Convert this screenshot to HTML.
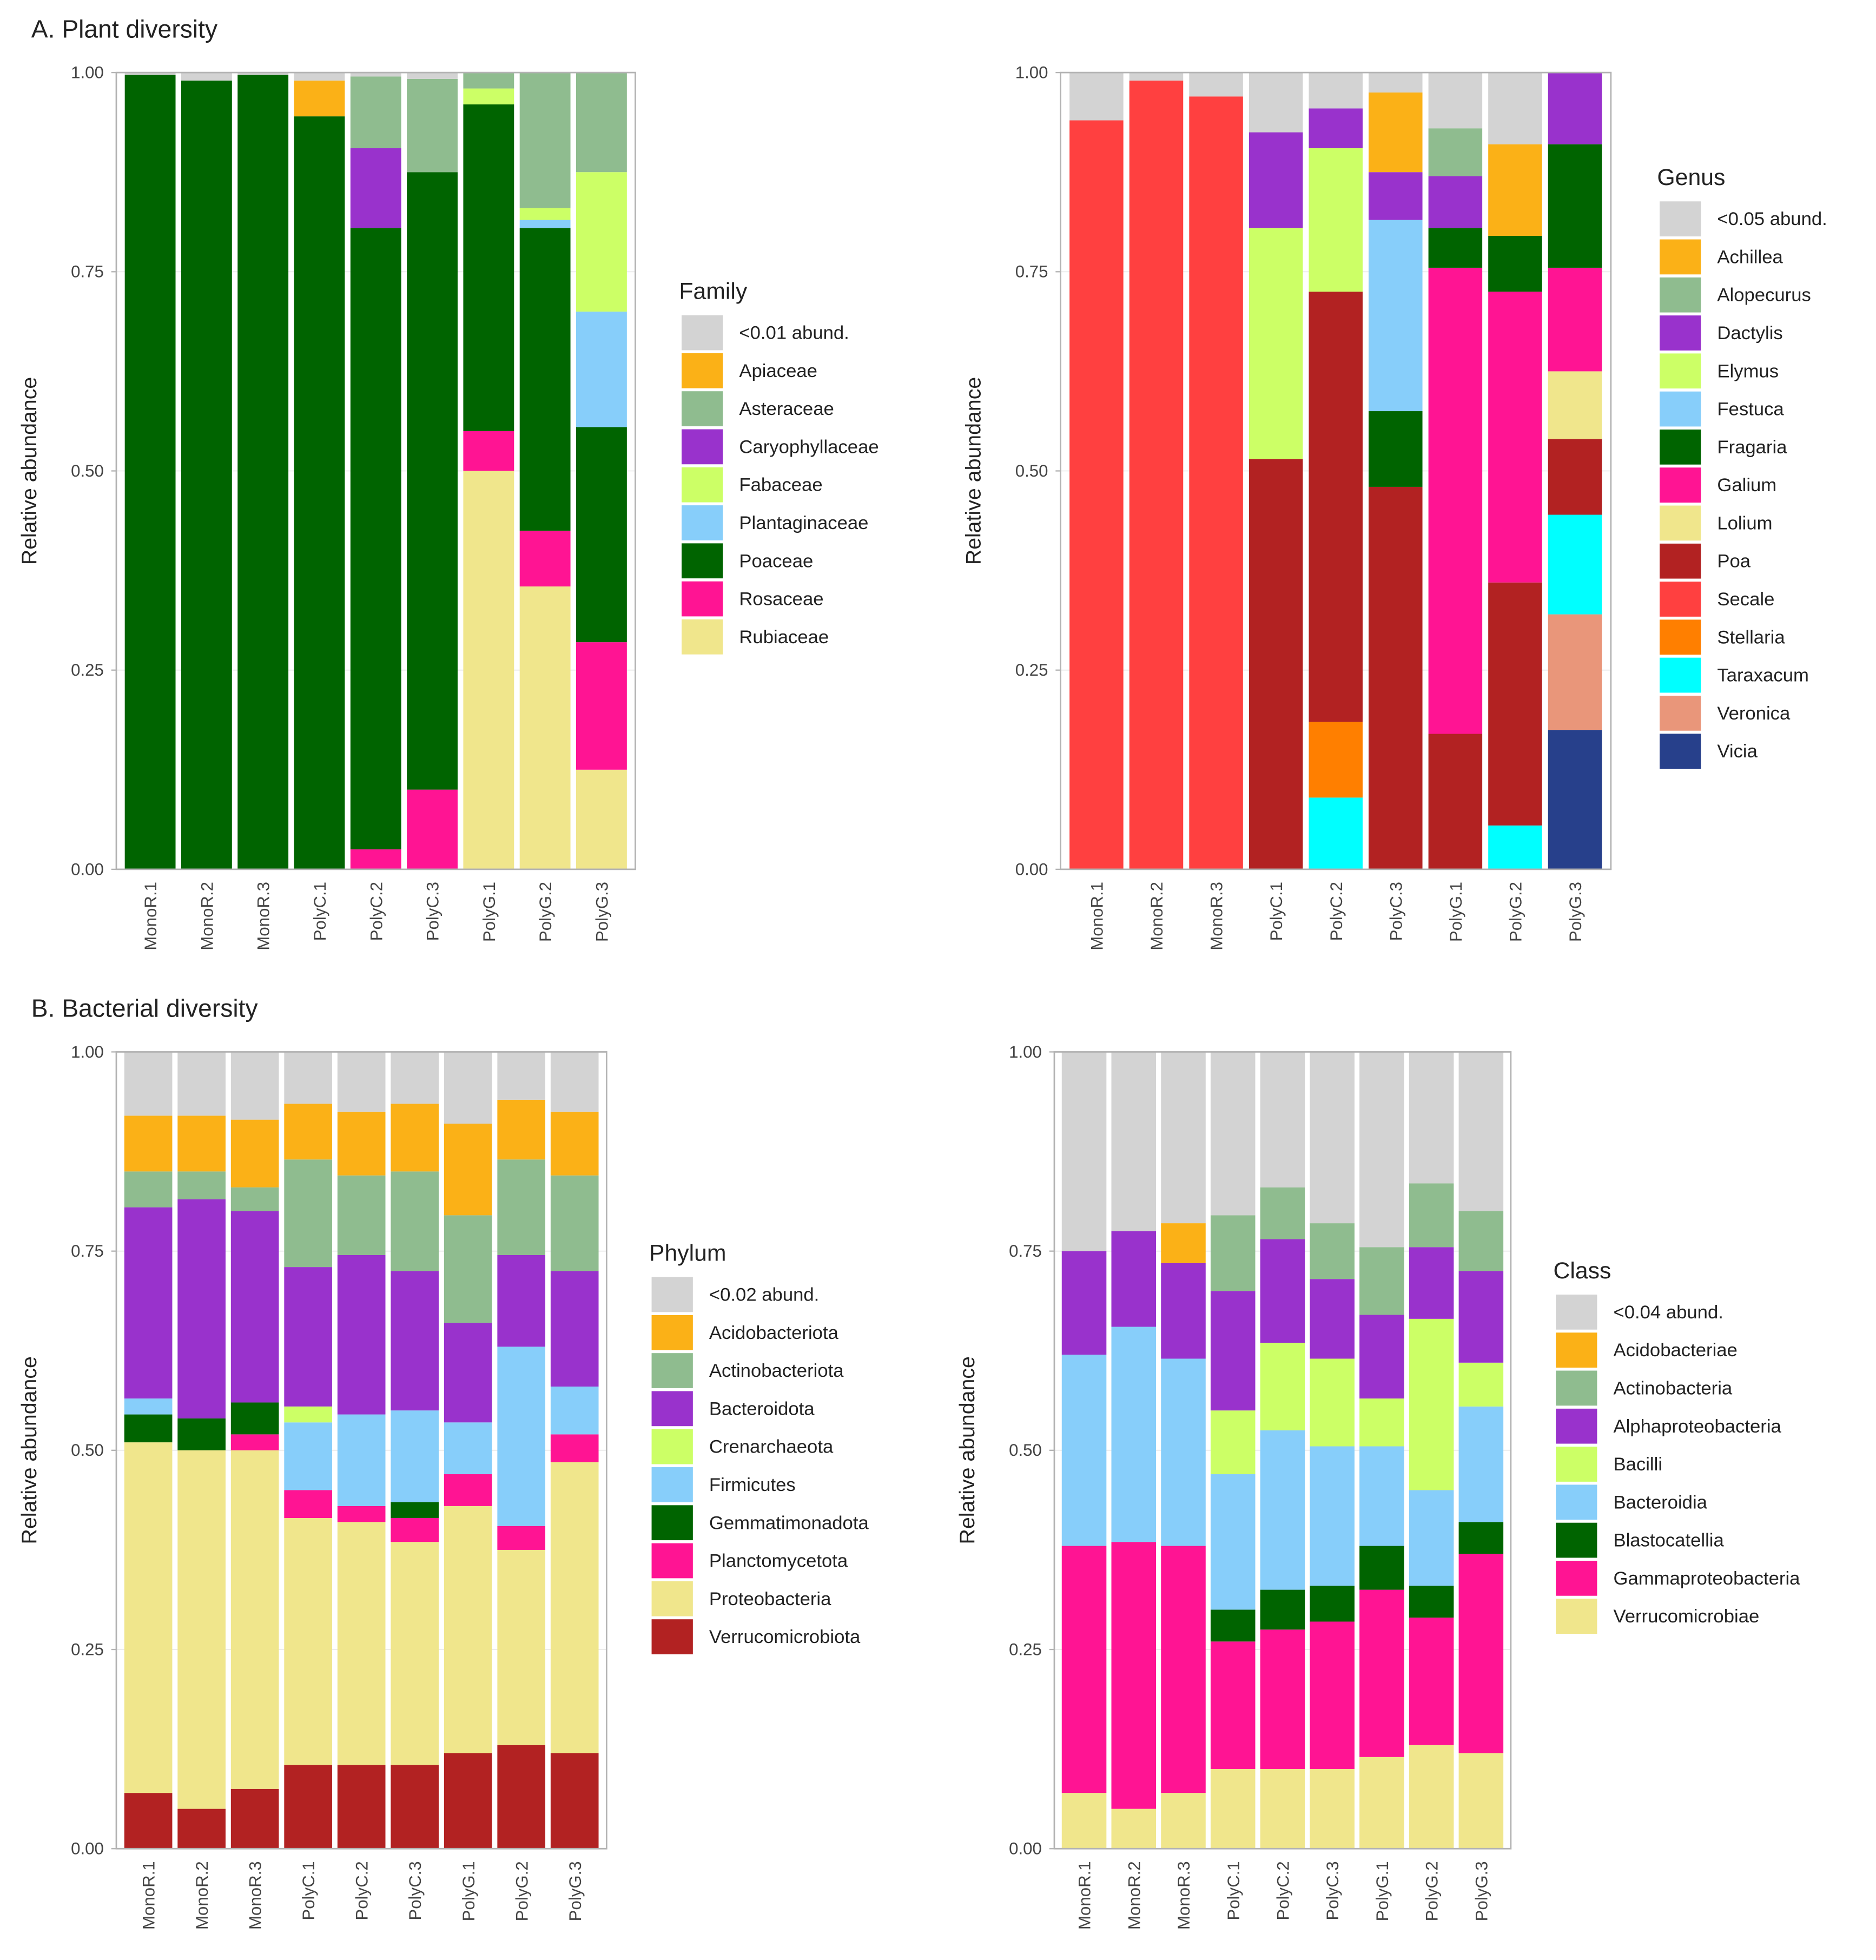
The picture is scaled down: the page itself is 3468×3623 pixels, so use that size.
<!DOCTYPE html>
<html><head><meta charset="utf-8">
<style>
html,body{margin:0;padding:0;background:#fff;}
svg{display:block;font-family:"Liberation Sans",Arial,sans-serif;}
</style></head>
<body>
<svg id="fig" width="3468" height="3623" viewBox="0 0 1500 1567" preserveAspectRatio="none" xmlns="http://www.w3.org/2000/svg">
<text x="25" y="30" font-size="20" fill="#222">A. Plant diversity</text>
<text x="25" y="813" font-size="20" fill="#222">B. Bacterial diversity</text>
</svg>
<script>
const samples = ["MonoR.1","MonoR.2","MonoR.3","PolyC.1","PolyC.2","PolyC.3","PolyG.1","PolyG.2","PolyG.3"];
const yTicks = [0,0.25,0.5,0.75,1];
const yTickLabels = ["0.00","0.25","0.50","0.75","1.00"];

const familyNames = ["<0.01 abund.","Apiaceae","Asteraceae","Caryophyllaceae","Fabaceae","Plantaginaceae","Poaceae","Rosaceae","Rubiaceae"];
const familyColors = ["#d3d3d3","#fbb117","#8fbc8f","#9932cc","#ccff66","#87cefa","#006400","#ff1493","#f0e68c"];
const familyValues = [
 [0.003,0.01,0.003,0.01,0.005,0.008,0,0,0],
 [0,0,0,0.045,0,0,0,0,0],
 [0,0,0,0,0.09,0.117,0.02,0.17,0.125],
 [0,0,0,0,0.1,0,0,0,0],
 [0,0,0,0,0,0,0.02,0.015,0.175],
 [0,0,0,0,0,0,0,0.01,0.145],
 [0.997,0.99,0.997,0.945,0.78,0.775,0.41,0.38,0.27],
 [0,0,0,0,0.025,0.1,0.05,0.07,0.16],
 [0,0,0,0,0,0,0.5,0.355,0.125]
];

const genusNames = ["<0.05 abund.","Achillea","Alopecurus","Dactylis","Elymus","Festuca","Fragaria","Galium","Lolium","Poa","Secale","Stellaria","Taraxacum","Veronica","Vicia"];
const genusColors = ["#d3d3d3","#fbb117","#8fbc8f","#9932cc","#ccff66","#87cefa","#006400","#ff1493","#f0e68c","#b22222","#ff4040","#ff7f00","#00ffff","#e9967a","#27408b"];
const genusValues = [
 [0.06,0.01,0.03,0.075,0.045,0.025,0.07,0.09,0],
 [0,0,0,0,0,0.1,0,0.115,0],
 [0,0,0,0,0,0,0.06,0,0],
 [0,0,0,0.12,0.05,0.06,0.065,0,0.09],
 [0,0,0,0.29,0.18,0,0,0,0],
 [0,0,0,0,0,0.24,0,0,0],
 [0,0,0,0,0,0.095,0.05,0.07,0.155],
 [0,0,0,0,0,0,0.585,0.365,0.13],
 [0,0,0,0,0,0,0,0,0.085],
 [0,0,0,0.515,0.54,0.48,0.17,0.305,0.095],
 [0.94,0.99,0.97,0,0,0,0,0,0],
 [0,0,0,0,0.095,0,0,0,0],
 [0,0,0,0,0.09,0,0,0.055,0.125],
 [0,0,0,0,0,0,0,0,0.145],
 [0,0,0,0,0,0,0,0,0.175]
];

const phylumNames = ["<0.02 abund.","Acidobacteriota","Actinobacteriota","Bacteroidota","Crenarchaeota","Firmicutes","Gemmatimonadota","Planctomycetota","Proteobacteria","Verrucomicrobiota"];
const phylumColors = ["#d3d3d3","#fbb117","#8fbc8f","#9932cc","#ccff66","#87cefa","#006400","#ff1493","#f0e68c","#b22222"];
const phylumValues = [
 [0.08,0.08,0.085,0.065,0.075,0.065,0.09,0.06,0.075],
 [0.07,0.07,0.085,0.07,0.08,0.085,0.115,0.075,0.08],
 [0.045,0.035,0.03,0.135,0.1,0.125,0.135,0.12,0.12],
 [0.24,0.275,0.24,0.175,0.2,0.175,0.125,0.115,0.145],
 [0,0,0,0.02,0,0,0,0,0],
 [0.02,0,0,0.085,0.115,0.115,0.065,0.225,0.06],
 [0.035,0.04,0.04,0,0,0.02,0,0,0],
 [0,0,0.02,0.035,0.02,0.03,0.04,0.03,0.035],
 [0.44,0.45,0.425,0.31,0.305,0.28,0.31,0.245,0.365],
 [0.07,0.05,0.075,0.105,0.105,0.105,0.12,0.13,0.12]
];

const classNames = ["<0.04 abund.","Acidobacteriae","Actinobacteria","Alphaproteobacteria","Bacilli","Bacteroidia","Blastocatellia","Gammaproteobacteria","Verrucomicrobiae"];
const classColors = ["#d3d3d3","#fbb117","#8fbc8f","#9932cc","#ccff66","#87cefa","#006400","#ff1493","#f0e68c"];
const classValues = [
 [0.25,0.225,0.215,0.205,0.17,0.215,0.245,0.165,0.2],
 [0,0,0.05,0,0,0,0,0,0],
 [0,0,0,0.095,0.065,0.07,0.085,0.08,0.075],
 [0.13,0.12,0.12,0.15,0.13,0.1,0.105,0.09,0.115],
 [0,0,0,0.08,0.11,0.11,0.06,0.215,0.055],
 [0.24,0.27,0.235,0.17,0.2,0.175,0.125,0.12,0.145],
 [0,0,0,0.04,0.05,0.045,0.055,0.04,0.04],
 [0.31,0.335,0.31,0.16,0.175,0.185,0.21,0.16,0.25],
 [0.07,0.05,0.07,0.1,0.1,0.1,0.115,0.13,0.12]
];

const NS = "http://www.w3.org/2000/svg";
const svg = document.getElementById("fig");
function mk(tag, attrs, parent, text){
  const e = document.createElementNS(NS, tag);
  for (const k in attrs) e.setAttribute(k, attrs[k]);
  if (text !== undefined) e.textContent = text;
  (parent || svg).appendChild(e);
  return e;
}

function panel(key, L, R, T, B, names, colors, values, legX, legY, legTitle){
  const g = mk("g", {});
  
  
  const y = v => B - v * (B - T);
  const u = (R - L) / (samples.length - 1 + 1.2);
  const xc = i => L + (0.6 + i) * u;
  const bw = 0.9 * u;
  yTicks.forEach(t => {
    const gl = mk("line", {x1:L, x2:R, y1:y(t), y2:y(t), stroke:"#ebebeb", "stroke-width":0.8}, g);
    
    
  });
  samples.forEach((s, i) => {
    let cum = 0;
    for (let k = names.length - 1; k >= 0; k--) {
      const v = values[k][i];
      if (v <= 0) continue;
      const r = mk("rect", {x:xc(i) - bw/2, y:y(cum + v), width:bw, height:y(cum) - y(cum + v), fill:colors[k]}, g);
      
      
      cum += v;
    }
    const lab = mk("text", {x:0, y:0, transform:"translate(" + (xc(i) + 5) + "," + (B + 10) + ") rotate(-90)", "text-anchor":"end", "font-size":13.5, fill:"#444"}, g, s);
    
    
  });
  const border = mk("rect", {x:L, y:T, width:R-L, height:B-T, fill:"none", stroke:"#b3b3b3", "stroke-width":1.2}, g);
  
  
  yTicks.forEach((t, j) => {
    const tl = mk("text", {x:L - 10, y:y(t) + 4.5, "text-anchor":"end", "font-size":13.5, fill:"#444"}, g, yTickLabels[j]);
    
    
    const tk = mk("line", {x1:L - 4, x2:L, y1:y(t), y2:y(t), stroke:"#b3b3b3"}, g);
    
    
  });
  const yt = mk("text", {x:0, y:0, transform:"translate(" + (L - 64) + "," + ((T + B) / 2) + ") rotate(-90)", "text-anchor":"middle", "font-size":17, fill:"#222"}, g, "Relative abundance");
  
  
  const lg = mk("g", {}, g);
  
  
  const tt = mk("text", {x:legX - 2, y:legY, "font-size":18.5, fill:"#222"}, lg, legTitle);
  
  
  names.forEach((n, k) => {
    const ky = legY + 13 + k * 30.4;
    const e = mk("g", {}, lg);
    
    
    mk("rect", {x:legX, y:ky, width:33, height:28, fill:colors[k]}, e);
    mk("text", {x:legX + 46, y:ky + 19, "font-size":15, fill:"#222"}, e, n);
  });
}

panel("family", 93, 508, 58, 695, familyNames, familyColors, familyValues, 545, 239, "Family");
panel("genus", 848, 1288, 58, 695, genusNames, genusColors, genusValues, 1327, 148, "Genus");
panel("phylum", 93, 485, 841, 1478, phylumNames, phylumColors, phylumValues, 521, 1008, "Phylum");
panel("class", 843, 1208, 841, 1478, classNames, classColors, classValues, 1244, 1022, "Class");
</script>
</body></html>
